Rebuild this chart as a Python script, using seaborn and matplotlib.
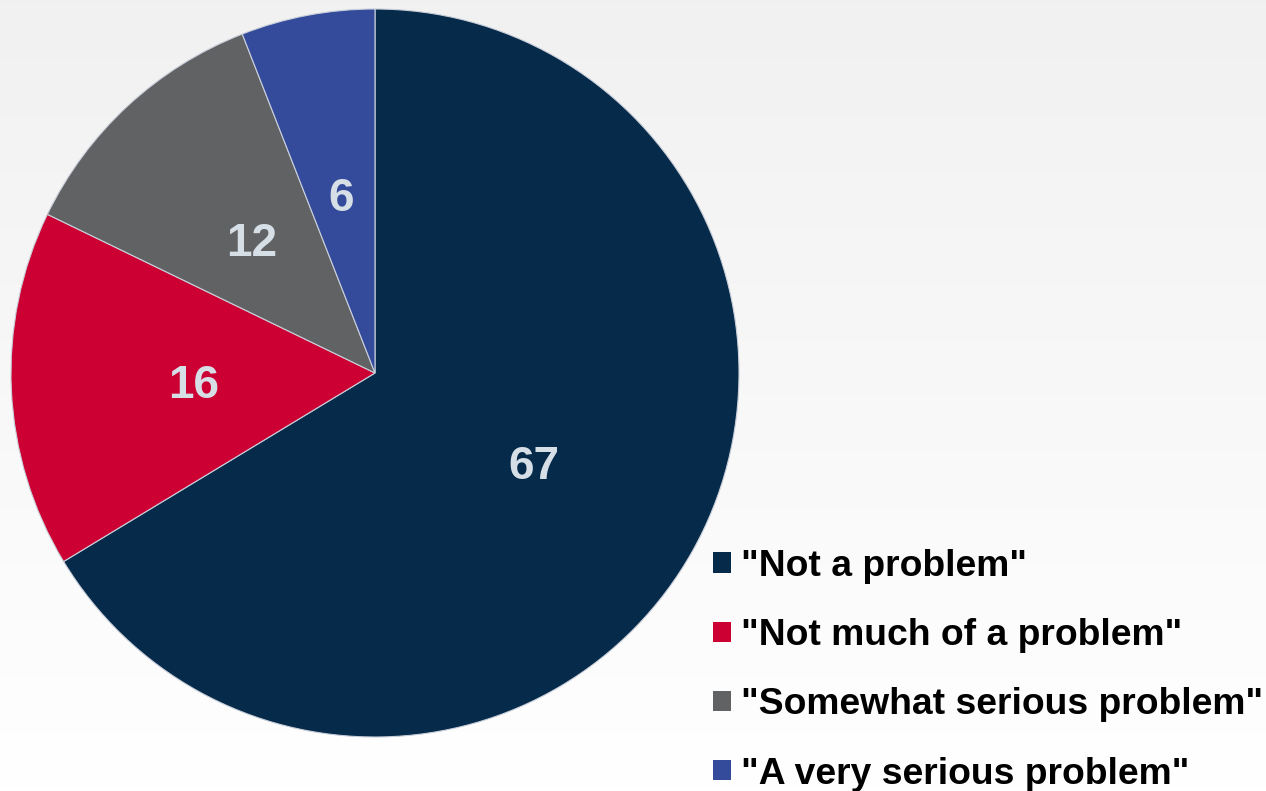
import numpy as np
import matplotlib
matplotlib.use("Agg")
import matplotlib.pyplot as plt
import seaborn as sns

# Survey responses (percent)
categories = ['"Not a problem"', '"Not much of a problem"',
              '"Somewhat serious problem"', '"A very serious problem"']
values = [67, 16, 12, 6]
value_labels = ["67", "16", "12", "6"]

sns.set_theme(style="white")
palette = sns.color_palette(["#062B4A", "#CC0033", "#616264", "#344B9C"])
plt.rcParams["font.family"] = ["Liberation Sans", "DejaVu Sans"]
plt.rcParams["text.color"] = "black"

W, H = 1266, 791
fig = plt.figure(figsize=(W / 100, H / 100), dpi=100)

# soft vertical gradient background
bg = fig.add_axes([0, 0, 1, 1], zorder=0)
grad = np.linspace(0.945, 1.0, 256).reshape(-1, 1)
bg.imshow(np.dstack([grad, grad, grad]), aspect="auto", extent=[0, 1, 0, 1])
bg.set_axis_off()

ax = fig.add_axes([0, 0, 1, 1], zorder=1)
ax.patch.set_alpha(0)

wedges, texts = ax.pie(
    values,
    labels=value_labels,
    colors=palette,
    startangle=90,
    counterclock=False,
    center=(375, H - 373),
    radius=364,
    labeldistance=0.5,
    wedgeprops=dict(edgecolor="#c9cfda", linewidth=0.8),
    textprops=dict(color="#D6DEE6", fontsize=33, fontweight="bold",
                   ha="center", va="center_baseline"),
    frame=True,
)
ax.set_xlim(0, W)
ax.set_ylim(0, H)
ax.set_aspect("equal")
ax.set_axis_off()

leg = ax.legend(
    wedges, categories,
    loc="lower left",
    bbox_to_anchor=(706 / W, -8 / H),
    frameon=False,
    prop=dict(size=26.8, weight="bold"),
    labelcolor="black",
    handlelength=0.46, handleheight=0.46,
    handletextpad=0.27,
    labelspacing=0.92,
    borderpad=0.2,
    borderaxespad=0,
)
for h in leg.legend_handles:
    h.set_edgecolor("none")

fig.savefig("out.png", dpi=100)
